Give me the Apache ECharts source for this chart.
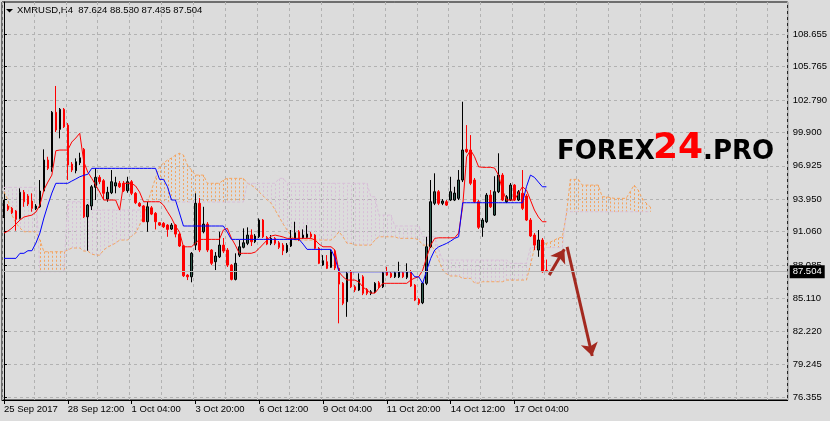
<!DOCTYPE html>
<html><head><meta charset="utf-8">
<script src="https://cdn.jsdelivr.net/npm/echarts@6/dist/echarts.min.js"></script>
<style>html,body{margin:0;padding:0;background:#DCDCDC;}#c{width:830px;height:421px;}</style>
</head><body><div id="c"></div>
<script>
const headerText = 'XMRUSD,H4  87.624 88.580 87.485 87.504';
const xTickLabels = ['25 Sep 2017','28 Sep 12:00','1 Oct 04:00','3 Oct 20:00','6 Oct 12:00','9 Oct 04:00','11 Oct 20:00','14 Oct 12:00','17 Oct 04:00'];
const yTickValues = [76.355,79.245,82.220,85.110,88.085,91.060,93.950,96.925,99.900,102.790,105.765,108.655];
const bidPrice = 87.504;
const totalSlots = 197;

const openP = [
92.39,93.35,93.14,92.90,92.25,94.57,94.24,93.79,93.11,93.28,
94.68,97.44,96.79,101.69,100.17,101.95,100.55,97.08,96.49,97.20,
98.39,92.39,93.35,95.01,95.90,95.60,93.97,94.53,95.13,95.37,
95.37,94.71,95.51,94.48,93.59,93.35,91.95,93.19,92.70,91.86,
91.81,91.65,91.30,91.65,90.85,89.81,87.20,87.05,89.87,93.59,
91.06,91.74,89.43,88.39,88.83,89.87,89.43,88.09,86.82,88.98,
89.67,90.03,90.76,90.17,90.61,92.10,90.56,90.03,90.47,90.08,
89.87,89.28,89.79,90.38,91.06,90.52,90.56,90.85,90.76,89.58,
88.09,88.39,87.89,89.28,87.80,86.47,84.83,87.50,86.16,85.87,
87.05,85.93,85.58,85.72,86.52,86.16,87.50,87.36,87.05,87.05,
87.41,87.00,87.50,86.31,85.04,84.74,86.47,89.72,93.59,94.62,
93.59,93.73,93.88,93.88,94.03,95.66,98.39,98.33,95.66,93.73,
91.45,91.95,94.32,92.54,94.62,96.10,93.73,93.88,95.21,93.88,
94.48,94.24,92.10,90.76,89.43,90.32,87.624];
const highP = [
93.88,93.52,93.26,92.99,94.92,94.77,94.41,94.48,93.52,95.66,
98.39,97.73,101.80,104.03,102.07,102.07,100.73,97.26,97.59,98.09,
98.51,93.52,95.21,96.70,96.10,95.75,95.06,96.55,95.95,95.57,
95.57,95.95,95.66,94.59,93.70,93.43,93.73,93.35,92.81,91.92,
91.92,91.74,91.83,91.74,90.94,89.87,87.29,89.25,94.48,94.06,
93.28,91.92,89.52,89.25,91.06,90.50,89.61,88.18,89.14,90.32,
91.36,91.45,91.27,90.85,92.25,92.19,90.68,90.76,90.59,90.23,
90.05,90.05,91.21,91.95,91.21,91.27,91.65,91.03,90.85,89.70,
88.98,88.98,89.43,89.43,87.83,86.58,87.47,87.65,86.31,87.36,
87.20,86.05,85.87,86.58,86.67,87.56,87.94,87.47,87.56,88.39,
87.56,88.25,87.65,86.40,85.16,86.58,90.61,95.66,96.26,94.77,
93.97,93.88,95.95,95.06,96.55,102.63,100.55,99.66,95.84,93.88,
92.28,94.50,94.77,96.00,98.04,96.28,94.32,95.39,95.30,94.77,
96.55,94.41,92.28,90.94,91.21,90.50,88.58];
const lowP = [
92.28,92.90,92.63,91.15,92.16,93.28,93.35,92.84,92.99,93.19,
94.62,96.55,96.40,99.93,99.37,100.29,95.66,96.37,96.26,96.99,
92.28,89.37,92.99,93.88,95.30,93.88,93.73,94.41,94.48,94.95,
94.59,94.53,94.32,93.52,93.26,91.92,91.06,92.54,91.27,91.57,
91.39,90.61,91.21,90.56,89.70,87.03,86.76,86.56,89.43,89.25,
90.92,89.25,88.09,87.65,88.72,89.16,87.92,86.73,86.73,88.81,
89.58,89.87,89.79,90.05,90.50,90.50,89.87,89.87,89.87,89.52,
88.98,89.16,89.70,90.32,90.23,90.41,90.50,90.50,89.52,88.18,
88.01,87.74,87.83,87.65,82.91,84.53,83.49,86.05,85.69,85.78,
85.42,85.42,85.42,85.60,86.05,86.05,87.12,86.94,86.94,86.94,
86.94,86.85,86.14,84.89,84.53,84.62,86.31,89.61,93.43,93.43,
93.43,93.35,93.79,93.79,93.88,95.48,98.06,95.21,93.61,91.30,
90.61,91.83,93.17,92.46,94.50,93.79,93.61,93.79,93.79,93.79,
92.99,92.01,90.59,89.43,88.83,87.41,87.485];
const closeP = [
93.59,93.05,92.75,92.16,94.57,93.73,93.52,93.14,93.35,94.68,
97.44,96.70,101.69,100.11,101.95,100.40,96.99,96.55,97.29,97.64,
92.39,93.43,95.06,95.90,95.51,94.48,94.57,95.51,95.42,95.06,
94.71,95.51,94.48,93.64,93.35,91.95,93.28,92.63,91.95,91.65,
91.50,91.27,91.65,90.85,89.79,87.14,87.05,89.14,93.59,89.43,
91.74,89.43,88.25,88.90,89.87,89.34,88.09,86.82,88.25,89.72,
90.08,90.76,90.17,90.68,92.10,90.61,89.96,90.47,90.03,89.67,
89.37,89.87,90.47,90.97,90.32,90.76,90.85,90.61,89.58,88.25,
88.48,87.80,89.28,87.83,86.40,84.69,87.36,86.16,85.87,86.82,
85.58,85.58,85.72,86.47,86.16,87.41,87.20,87.05,87.41,87.50,
87.05,87.50,86.23,84.98,84.69,86.47,89.72,93.73,94.62,93.59,
93.79,93.43,94.62,94.50,95.66,98.33,98.18,95.37,93.73,91.45,
92.10,94.32,93.28,94.62,96.10,93.88,94.17,95.21,93.88,94.62,
93.14,92.10,90.68,89.87,90.32,87.50,87.504];

const tenkan = [
90.94,91.12,91.39,91.74,92.10,92.37,92.46,92.54,92.81,93.43,
94.77,95.48,96.10,98.27,98.33,98.33,98.33,99.04,99.40,99.82,
97.29,96.37,95.81,95.21,94.59,93.88,93.88,93.88,93.88,92.99,
95.37,95.37,95.37,95.13,94.59,93.73,93.73,93.73,93.73,93.73,
93.43,92.84,92.28,91.57,91.03,89.72,89.72,89.72,90.03,90.38,
90.38,90.38,90.38,90.38,90.38,91.21,91.36,90.50,89.87,89.14,
89.14,89.14,89.14,89.25,89.58,89.96,90.32,90.68,90.76,90.68,
90.59,90.47,90.47,90.47,90.47,90.47,90.47,90.47,90.32,89.96,
89.72,89.72,89.72,89.43,87.47,87.05,86.76,86.76,86.76,86.58,
86.14,85.87,85.60,85.60,86.05,86.47,86.47,86.47,86.47,86.47,
86.47,86.47,86.76,86.94,87.05,87.65,88.81,89.87,90.47,90.52,
90.52,90.52,90.52,90.52,90.94,93.28,97.73,98.33,97.73,96.84,
96.79,96.79,96.79,96.73,96.10,94.77,93.88,93.88,93.88,94.50,
95.06,94.77,93.88,92.99,92.37,91.95,91.95];
const kijun = [
88.69,88.69,88.69,88.69,89.14,89.14,89.37,89.37,90.05,90.94,
92.28,93.43,94.50,95.37,95.37,95.37,95.37,95.57,95.75,95.95,
96.08,96.17,96.70,96.70,96.70,96.70,96.70,96.70,96.70,96.70,
96.70,96.70,96.70,96.70,96.70,96.70,96.70,96.70,96.70,95.72,
95.72,95.06,93.88,93.88,92.73,91.57,91.57,91.57,91.57,91.57,
91.57,91.57,91.57,91.57,91.57,91.57,91.03,90.38,90.38,90.38,
90.38,90.38,90.38,90.38,90.38,90.38,90.38,90.38,90.38,90.38,
90.38,90.38,90.38,90.38,90.38,89.96,89.49,89.49,89.49,89.49,
89.49,89.49,89.49,88.72,87.50,87.50,87.50,87.50,87.50,87.50,
87.50,87.50,87.50,87.50,87.50,87.50,87.50,87.50,87.50,87.50,
87.50,87.50,87.50,87.05,87.05,86.47,87.65,88.69,89.43,89.72,
89.87,90.03,90.23,90.47,90.61,93.64,93.64,93.64,93.64,93.64,
93.64,93.64,93.64,93.64,93.64,93.64,93.64,93.64,93.64,93.64,
93.64,95.06,96.10,95.90,95.48,95.06,95.06];
const spanA = [
94.62,93.88,92.54,91.83,91.39,91.06,91.06,91.06,91.06,90.32,
89.28,89.28,89.28,89.28,89.28,89.28,89.43,89.61,89.61,89.61,
89.34,89.34,89.07,88.98,88.98,89.43,89.70,89.87,90.05,90.32,
90.32,90.32,90.68,90.94,91.65,92.54,93.61,94.77,95.84,96.84,
97.17,97.44,97.62,97.88,98.04,97.88,96.99,96.55,96.10,96.10,
96.10,95.37,95.37,95.37,95.37,95.66,95.81,95.81,95.81,95.81,
95.81,95.39,95.21,94.95,94.59,94.24,93.88,93.59,92.99,92.37,
91.74,91.21,90.68,90.32,90.32,90.32,90.32,90.32,90.32,90.32,
90.32,90.32,90.32,90.61,91.06,90.61,90.03,90.03,89.87,89.87,
89.87,89.87,89.87,90.32,90.61,90.61,90.61,90.61,90.61,90.47,
90.47,90.47,90.47,90.47,90.32,89.87,89.87,89.87,89.43,88.54,
87.65,87.29,87.12,87.12,87.12,86.91,86.91,86.91,86.49,86.49,
86.61,86.61,86.61,86.61,86.61,86.61,86.76,86.76,86.76,86.76,
86.76,86.76,88.09,89.61,89.79,89.87,90.03,90.14,90.32,90.50,
90.59,92.54,95.72,95.72,95.72,95.21,95.21,95.21,95.21,95.21,
94.17,94.17,94.10,94.03,94.03,94.03,94.03,94.62,95.21,94.77,
94.03,93.61,93.28];
const spanB = [
95.01,95.01,95.01,95.01,95.01,95.01,95.01,95.01,95.01,87.50,
87.50,87.50,87.50,87.50,87.50,87.50,93.73,93.73,93.73,93.73,
93.73,93.73,92.99,92.99,92.99,92.99,92.99,92.99,92.99,92.99,
92.99,92.99,92.99,92.99,92.99,93.70,93.70,93.70,93.70,93.70,
93.70,93.70,93.70,93.70,93.70,93.70,93.70,93.70,93.70,93.70,
93.70,93.70,93.70,93.70,93.70,93.70,93.70,93.70,93.70,93.70,
93.70,95.37,95.37,95.37,95.37,95.37,95.37,95.37,95.37,95.81,
95.81,95.37,95.37,95.37,95.37,95.37,95.37,95.37,95.37,95.37,
95.37,95.37,95.37,95.37,95.37,95.37,95.37,95.37,95.37,95.37,
95.37,95.37,94.17,94.17,92.54,92.54,92.54,92.54,91.57,91.57,
91.57,91.57,91.57,91.57,91.57,90.61,90.61,90.61,90.61,89.43,
88.54,88.54,88.54,88.54,88.54,88.54,88.54,88.54,88.54,88.54,
88.54,88.54,88.54,88.54,88.54,88.54,88.54,88.25,88.25,88.25,
88.25,88.25,89.65,89.65,89.65,89.65,89.65,89.65,89.65,89.65,
89.65,92.84,92.84,92.84,92.84,92.84,92.84,92.84,92.84,92.84,
92.84,92.84,92.84,92.84,92.84,92.84,92.84,92.84,92.84,92.84,
92.84,92.84,92.84];

// forecast arrows: [bar position, price] pairs
const arrowUp = [[136.7, 87.20], [140.5, 89.50]];
const arrowDown = [[141.2, 89.72], [147.5, 80.00]];

const slots = Array.from({length: totalSlots}, (_, i) => String(i));
const candles = openP.map((o, i) => [o, closeP[i], lowP[i], highP[i]]);
const cloud = spanA.map((a, i) => [i, a, spanB[i]]);
const FONT = 'Liberation Sans';

const chart = echarts.init(document.getElementById('c'), null, {renderer: 'canvas'});
chart.setOption({
  animation: false,
  backgroundColor: '#DCDCDC',
  grid: {left: 2, right: 40, top: 2, bottom: 21, show: true, borderColor: '#000', borderWidth: 1, backgroundColor: 'transparent'},
  xAxis: [{
    type: 'category', data: slots, boundaryGap: true,
    axisLine: {show: true, lineStyle: {color: '#000', width: 1}},
    axisTick: {show: true, alignWithLabel: true, length: 4, interval: (i) => i % 16 === 0 && i / 16 < xTickLabels.length, lineStyle: {color: '#000'}},
    axisLabel: {show: true, interval: (i) => i % 16 === 0 && i / 16 < xTickLabels.length, formatter: (v, i) => xTickLabels[i / 16] || '', align: 'left', margin: 4, color: '#000', fontSize: 9.5, fontFamily: FONT},
    splitLine: {show: true, interval: 7, lineStyle: {color: '#B2B2B2', type: [3, 3], width: 1}}
  }, {
    type: 'value', min: -0.5, max: totalSlots - 0.5, show: false
  }],
  yAxis: [{
    type: 'value', position: 'right', min: 76.088, max: 111.502,
    axisLine: {show: true, lineStyle: {color: '#000'}},
    axisTick: {show: true, length: 3, customValues: yTickValues, lineStyle: {color: '#000'}},
    axisLabel: {show: true, customValues: yTickValues, formatter: (v) => v.toFixed(3), margin: 5, color: '#000', fontSize: 9.5, fontFamily: FONT},
    splitLine: {show: true, lineStyle: {color: '#B2B2B2', type: [3, 3], width: 1}}
  }],
  graphic: [
    {type: 'polygon', shape: {points: [[6, 9], [13, 9], [9.5, 12.5]]}, style: {fill: '#000'}},
    {type: 'text', style: {x: 17, y: 10.5, text: headerText, fill: '#000', font: '9.5px "Liberation Sans"', textAlign: 'left', textVerticalAlign: 'middle'}},
    {type: 'text', z: 100, style: {x: 557, y: 152, text: 'FOREX', fill: '#000', font: 'bold 26px "DejaVu Sans"', textAlign: 'left', textVerticalAlign: 'middle'}},
    {type: 'text', z: 100, style: {x: 653, y: 148.5, text: '24', fill: '#FF0000', font: 'bold 36px "DejaVu Sans"', textAlign: 'left', textVerticalAlign: 'middle'}},
    {type: 'text', z: 100, style: {x: 703, y: 152, text: '.PRO', fill: '#000', font: 'bold 26px "DejaVu Sans"', textAlign: 'left', textVerticalAlign: 'middle'}}
  ],
  series: [
    {
      type: 'custom', name: 'cloud', xAxisIndex: 0, yAxisIndex: 0, z: 1, silent: true,
      data: cloud, encode: {x: 0, y: [1, 2]},
      renderItem: (params, api) => {
        const i = api.value(0), a = api.value(1), b = api.value(2);
        const p1 = api.coord([i, a]), p2 = api.coord([i, b]);
        const x = Math.round(p1[0]) + 0.5;
        return {type: 'line', shape: {x1: x, y1: p1[1], x2: x, y2: p2[1]},
          style: {stroke: a >= b ? '#F4A460' : '#D8BFD8', lineWidth: 1, lineDash: [2, 2]}};
      }
    },
    {type: 'line', name: 'Senkou A', data: spanA, z: 2, showSymbol: false, silent: true,
      lineStyle: {color: '#F4A460', width: 1, type: [3, 2]}},
    {type: 'line', name: 'Senkou B', data: spanB, z: 2, showSymbol: false, silent: true,
      lineStyle: {color: '#D8BFD8', width: 1, type: [3, 2]}},
    {
      type: 'candlestick', name: 'XMRUSD', data: candles, z: 3, barWidth: 2,
      itemStyle: {color: '#2F5B4D', color0: '#FF0000', borderColor: '#000', borderColor0: '#FF0000', borderWidth: 1},
      markLine: {
        symbol: 'none', silent: true, z: 10,
        lineStyle: {color: '#B4B4B4', type: 'solid', width: 1},
        label: {show: true, position: 'end', distance: 2, formatter: () => bidPrice.toFixed(3), backgroundColor: '#000', color: '#FFF', padding: [2, 3, 1, 3], fontSize: 9.5, fontFamily: FONT},
        data: [{yAxis: bidPrice}]
      }
    },
    {type: 'line', name: 'Tenkan', data: tenkan, z: 4, showSymbol: false, silent: true,
      lineStyle: {color: '#FF0000', width: 1}},
    {type: 'line', name: 'Kijun', data: kijun, z: 4, showSymbol: false, silent: true,
      lineStyle: {color: '#0000FF', width: 1}},
    {
      type: 'lines', coordinateSystem: 'cartesian2d', xAxisIndex: 1, yAxisIndex: 0, z: 6, silent: true,
      symbol: ['none', 'arrow'], symbolSize: 13,
      lineStyle: {color: '#A3291F', width: 3, opacity: 1, curveness: 0},
      data: [{coords: arrowUp}, {coords: arrowDown}]
    }
  ]
});
</script></body></html>
